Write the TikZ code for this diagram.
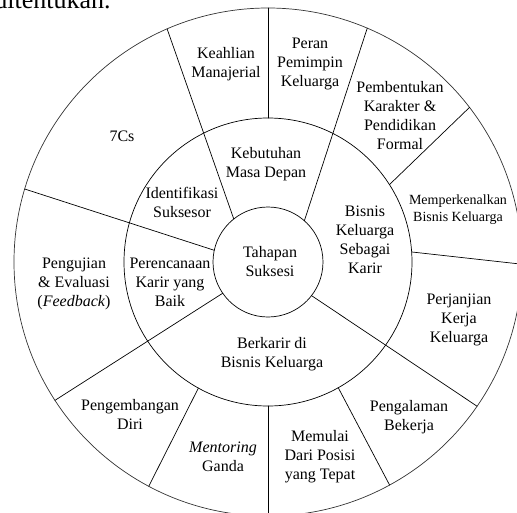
\documentclass[tikz,border=0pt]{standalone}
\usepackage{fontspec}
\setmainfont{Liberation Serif}
\tikzset{
 lbl/.style={align=center, inner sep=0pt, font=\fontsize{16}{19}\selectfont},
 smalllbl/.style={align=center, inner sep=0pt, font=\fontsize{14}{17}\selectfont}
}
\begin{document}
\begin{tikzpicture}[x=10pt, y=10pt, line width=0.7pt, line join=round, line cap=round]
 \useasboundingbox (-26.8,-25.0) rectangle (24.9,26.2);
 % page text above the figure
 \node[anchor=base east, inner sep=0pt, font=\fontsize{26}{30}\selectfont] (prev) at (-15.7,25.3) {ditentukan.};
 % rings
 \draw (0,0) circle (5.5)
 (0,0) circle (14.4);
 \draw[black!80] (0,0) circle (25.4);
 % spokes through both rings
 \foreach \a/\b in {128.5/113.4, 167.7/163.3, 214.6/213, 322.3/325.4, 48.6/67}
 \draw (\a:5.5)--(\b:25.4);
 % spokes in outer ring only
 \foreach \a/\b in {4/-0.5, 90/90, 270/270, 32.5/37.5, 241.1/242, 299.2/298.6}
 \draw (\a:14.4)--(\b:25.4);
 % centre
 \node[lbl] (tahapan) at (0.2,0.05) {Tahapan\\Suksesi};
 % inner ring
 \node[lbl] (kebutuhan) at (-0.2,9.75) {Kebutuhan\\Masa Depan};
 \node[lbl] (identifikasi) at (-8.6,6.0) {Identifikasi\\Suksesor};
 \node[lbl] (perencanaan) at (-9.8,-2.07) {Perencanaan\\Karir yang\\Baik};
 \node[lbl] (berkarir) at (0.4,-9.2) {Berkarir di\\Bisnis Keluarga};
 \node[lbl] (bisnis) at (9.7,2.2) {Bisnis\\Keluarga\\Sebagai\\Karir};
 % outer ring
 \node[lbl] (sevencs) at (-14.6,12.6) {7Cs};
 \node[lbl] (keahlian) at (-4.2,19.8) {Keahlian\\Manajerial};
 \node[lbl] (peran) at (4.2,19.8) {Peran\\Pemimpin\\Keluarga};
 \node[lbl] (pembentukan) at (13.2,14.6) {Pembentukan\\Karakter \&\\Pendidikan\\Formal};
 \node[smalllbl] (memperkenalkan) at (19.0,5.25) {Memperkenalkan\\Bisnis Keluarga};
 \node[lbl] (perjanjian) at (19.1,-5.8) {Perjanjian\\Kerja\\Keluarga};
 \node[lbl] (pengalaman) at (14.1,-15.55) {Pengalaman\\Bekerja};
 \node[lbl] (memulai) at (5.2,-19.47) {Memulai\\Dari Posisi\\yang Tepat};
 \node[lbl] (mentoring) at (-4.5,-19.5) {\textit{Mentoring}\\Ganda};
 \node[lbl] (pengembangan) at (-13.8,-15.2) {Pengembangan\\Diri};
 \node[lbl] (pengujian) at (-19.4,-2.2) {Pengujian\\\& Evaluasi\\(\textit{Feedback})};
\end{tikzpicture}
\end{document}
